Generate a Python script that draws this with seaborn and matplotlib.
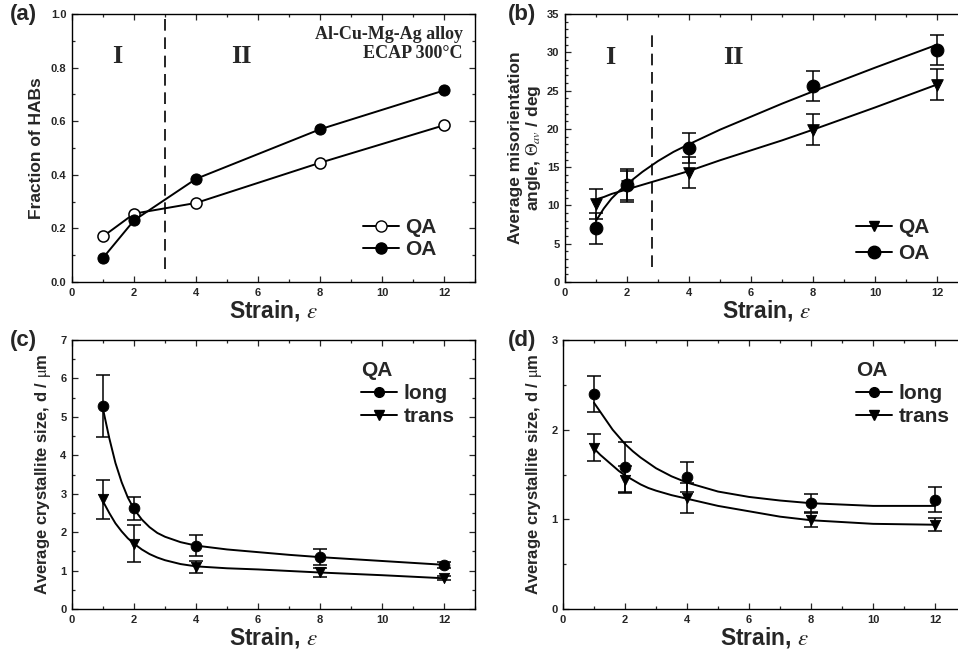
"""
plot.py - HAB fraction, misorientation angle and crystallite size vs strain
(Al-Cu-Mg-Ag alloy, ECAP 300 C), four panels.
"""

import matplotlib
matplotlib.use("Agg")
import matplotlib.pyplot as plt
from matplotlib.lines import Line2D
from matplotlib.ticker import MultipleLocator
import pandas as pd
import seaborn as sns

# ================================================================
# DATA
# ================================================================
STRAIN = [1, 2, 4, 8, 12]

# (a) fraction of HABs
HAB_QA = [0.17, 0.255, 0.295, 0.445, 0.585]
HAB_OA = [0.09, 0.23, 0.385, 0.57, 0.715]

# (b) average misorientation angle / deg
ANG_QA = [10.2, 12.5, 14.3, 19.9, 25.8]
ANG_QA_ERR = [2.0, 2.0, 2.0, 2.0, 2.0]
ANG_OA = [7.0, 12.7, 17.5, 25.6, 30.3]
ANG_OA_ERR = [2.0, 2.0, 2.0, 2.0, 2.0]
# fitted curves as drawn in the figure
ANG_FIT_X = [1, 1.25, 1.5, 1.75, 2, 2.5, 3, 3.5, 4, 5, 6, 7, 8, 10, 12]
ANG_FIT_QA = [10.8, 11.1, 11.5, 11.8, 12.1, 12.7, 13.3, 13.9, 14.5,
              15.9, 17.2, 18.5, 19.9, 22.8, 25.8]
ANG_FIT_OA = [8.0, 9.6, 10.9, 11.9, 12.8, 14.4, 15.8, 17.0, 18.0,
              19.9, 21.6, 23.3, 24.9, 28.0, 31.0]

# (c) QA crystallite size / um
QA_LONG = [5.28, 2.62, 1.65, 1.35, 1.14]
QA_LONG_ERR = [0.8, 0.3, 0.28, 0.2, 0.08]
QA_TRANS = [2.85, 1.7, 1.1, 0.96, 0.8]
QA_TRANS_ERR = [0.5, 0.48, 0.15, 0.12, 0.05]
SIZE_FIT_X = [1, 1.2, 1.4, 1.6, 1.8, 2, 2.25, 2.5, 2.75, 3, 3.5, 4,
              5, 6, 7, 8, 10, 12]
QA_FIT_LONG = [5.2, 4.45, 3.8, 3.3, 2.9, 2.6, 2.33, 2.13, 1.98, 1.88,
               1.74, 1.65, 1.55, 1.48, 1.41, 1.35, 1.25, 1.15]
QA_FIT_TRANS = [2.8, 2.5, 2.23, 2.02, 1.84, 1.7, 1.55, 1.43, 1.34, 1.27,
                1.17, 1.11, 1.06, 1.03, 0.99, 0.95, 0.88, 0.8]

# (d) OA crystallite size / um
OA_LONG = [2.4, 1.58, 1.47, 1.18, 1.22]
OA_LONG_ERR = [0.2, 0.28, 0.17, 0.1, 0.14]
OA_TRANS = [1.8, 1.44, 1.24, 0.99, 0.94]
OA_TRANS_ERR = [0.15, 0.15, 0.17, 0.08, 0.07]
OA_FIT_LONG = [2.3, 2.2, 2.1, 2.0, 1.92, 1.84, 1.76, 1.69, 1.63, 1.57,
               1.48, 1.41, 1.31, 1.25, 1.21, 1.18, 1.15, 1.15]
OA_FIT_TRANS = [1.79, 1.72, 1.66, 1.6, 1.54, 1.49, 1.44, 1.39, 1.35, 1.32,
                1.27, 1.23, 1.15, 1.09, 1.03, 0.99, 0.95, 0.94]

SANS = "Liberation Sans"
SERIF = "Liberation Serif"
XLABEL = "Strain, $\\varepsilon$"
SIZE_LABEL = "Average crystallite size, d / $\\mathrm{\\mu}$m"

# ================================================================
# HELPERS
# ================================================================

def style_axes(ax, ymax, ymajor, yminor, yfmt=None):
    ax.set_xlim(0, 13)
    ax.set_ylim(0, ymax)
    ax.xaxis.set_major_locator(MultipleLocator(2))
    ax.xaxis.set_minor_locator(MultipleLocator(1))
    ax.yaxis.set_major_locator(MultipleLocator(ymajor))
    ax.yaxis.set_minor_locator(MultipleLocator(yminor))
    if yfmt:
        ax.yaxis.set_major_formatter(yfmt)
    ax.tick_params(which="both", direction="in", top=True, right=True,
                   width=0.9, labelsize=8, pad=4)
    ax.tick_params(which="major", length=4)
    ax.tick_params(which="minor", length=2)
    for lab in ax.get_xticklabels() + ax.get_yticklabels():
        lab.set_fontweight("bold")
    for sp in ax.spines.values():
        sp.set_linewidth(1.0)
        sp.set_color("black")
    ax.set_xlabel(XLABEL, fontsize=16.5, fontweight="bold", labelpad=0)
    ax.grid(False)


def points_err(ax, y, err, marker, ms):
    ax.errorbar(STRAIN, y, yerr=err, fmt="none", ecolor="black",
                elinewidth=1.1, capsize=5, capthick=1.1, zorder=2)
    sns.scatterplot(x=STRAIN, y=y, ax=ax, marker=marker, s=ms, color="black",
                    edgecolor="black", zorder=4, legend=False)


def fit_line(ax, x, y):
    sns.lineplot(x=x, y=y, ax=ax, color="black", lw=1.4, zorder=3,
                 legend=False, estimator=None, sort=False)


def handle(marker, face="black", ms=7):
    return Line2D([0], [0], color="black", lw=1.4, marker=marker, ms=ms,
                  markerfacecolor=face, markeredgecolor="black")


LEG_KW = dict(frameon=False, prop={"size": 15, "weight": "bold"},
              handlelength=1.75, handletextpad=0.3, borderpad=0.3)

# ================================================================
# FIGURE
# ================================================================
sns.set_theme(style="ticks")
plt.rcParams["font.family"] = [SANS, "DejaVu Sans"]
plt.rcParams["mathtext.fontset"] = "stix"

fig = plt.figure(figsize=(9.58, 6.55), dpi=100)
ax_a = fig.add_axes([0.0752, 0.5695, 0.4207, 0.409])
ax_b = fig.add_axes([0.5898, 0.5695, 0.4207, 0.409])
ax_c = fig.add_axes([0.0752, 0.0702, 0.4207, 0.4107])
ax_d = fig.add_axes([0.5877, 0.0702, 0.4207, 0.4107])

# ---------------- (a) ----------------
df_a = pd.DataFrame({"strain": STRAIN * 2, "frac": HAB_QA + HAB_OA,
                     "state": ["QA"] * 5 + ["OA"] * 5})
sns.lineplot(data=df_a[df_a.state == "QA"], x="strain", y="frac", ax=ax_a,
             color="black", lw=1.4, marker="o", ms=8, mfc="white",
             mec="black", mew=1.1, zorder=3)
sns.lineplot(data=df_a[df_a.state == "OA"], x="strain", y="frac", ax=ax_a,
             color="black", lw=1.4, marker="o", ms=8, mfc="black",
             mec="black", zorder=3)
ax_a.axvline(3, ymin=0.05, ymax=1.0, color="black", lw=1.2, ls=(0, (7, 4)))
style_axes(ax_a, 1.0, 0.2, 0.1, "{x:.1f}")
ax_a.set_ylabel("Fraction of HABs", fontsize=12.5, fontweight="bold",
                labelpad=5)
ax_a.text(1.45, 0.84, "I", family=SERIF, fontsize=19, fontweight="bold",
          ha="center", va="center")
ax_a.text(5.45, 0.84, "II", family=SERIF, fontsize=19, fontweight="bold",
          ha="center", va="center")
ax_a.text(12.6, 0.955, "Al-Cu-Mg-Ag alloy\nECAP 300\u00b0C", family=SERIF,
          fontsize=13, fontweight="bold", ha="right", va="top",
          linespacing=1.15)
ax_a.legend([handle("o", "white", 8), handle("o", "black", 8)], ["QA", "OA"],
            loc="center left", bbox_to_anchor=(0.68, 0.162),
            labelspacing=0.15, **LEG_KW)

# ---------------- (b) ----------------
fit_line(ax_b, ANG_FIT_X, ANG_FIT_QA)
fit_line(ax_b, ANG_FIT_X, ANG_FIT_OA)
points_err(ax_b, ANG_QA, ANG_QA_ERR, "v", 70)
points_err(ax_b, ANG_OA, ANG_OA_ERR, "o", 85)
ax_b.axvline(2.8, ymin=2 / 35, ymax=33 / 35, color="black", lw=1.2,
             ls=(0, (7, 4)))
style_axes(ax_b, 35, 5, 1)
ax_b.set_ylabel("Average misorientation\nangle, $\\mathit{\\Theta}_{av}$ / deg",
                fontsize=12.5, fontweight="bold", labelpad=3, linespacing=1.05)
ax_b.text(1.45, 29.3, "I", family=SERIF, fontsize=19, fontweight="bold",
          ha="center", va="center")
ax_b.text(5.42, 29.3, "II", family=SERIF, fontsize=19, fontweight="bold",
          ha="center", va="center")
ax_b.legend([handle("v"), handle("o", ms=9)], ["QA", "OA"],
            loc="center left", bbox_to_anchor=(0.68, 0.155),
            labelspacing=0.35, **LEG_KW)

# ---------------- (c) ----------------
fit_line(ax_c, SIZE_FIT_X, QA_FIT_LONG)
fit_line(ax_c, SIZE_FIT_X, QA_FIT_TRANS)
points_err(ax_c, QA_LONG, QA_LONG_ERR, "o", 60)
points_err(ax_c, QA_TRANS, QA_TRANS_ERR, "v", 55)
style_axes(ax_c, 7, 1, 0.5)
ax_c.set_ylabel(SIZE_LABEL, fontsize=12, fontweight="bold", labelpad=5)
leg_c = ax_c.legend([handle("o"), handle("v")], ["long", "trans"],
                    title="QA", loc="upper left", bbox_to_anchor=(0.675, 0.985),
                    title_fontproperties={"size": 15, "weight": "bold"},
                    labelspacing=0.2, **LEG_KW)
leg_c._legend_box.align = "left"

# ---------------- (d) ----------------
fit_line(ax_d, SIZE_FIT_X, OA_FIT_LONG)
fit_line(ax_d, SIZE_FIT_X, OA_FIT_TRANS)
points_err(ax_d, OA_LONG, OA_LONG_ERR, "o", 60)
points_err(ax_d, OA_TRANS, OA_TRANS_ERR, "v", 55)
style_axes(ax_d, 3, 1, 0.5)
ax_d.set_ylabel(SIZE_LABEL, fontsize=12, fontweight="bold", labelpad=5)
leg_d = ax_d.legend([handle("o"), handle("v")], ["long", "trans"],
                    title="OA", loc="upper left", bbox_to_anchor=(0.685, 0.985),
                    title_fontproperties={"size": 15, "weight": "bold"},
                    labelspacing=0.2, **LEG_KW)
leg_d._legend_box.align = "left"

# panel letters
for ax, lab, dx in [(ax_a, "(a)", -0.155), (ax_b, "(b)", -0.142),
                    (ax_c, "(c)", -0.155), (ax_d, "(d)", -0.137)]:
    ax.text(dx, 1.0, lab, transform=ax.transAxes, fontsize=16,
            fontweight="bold", ha="left", va="center")

fig.savefig("out.png", dpi=100)
